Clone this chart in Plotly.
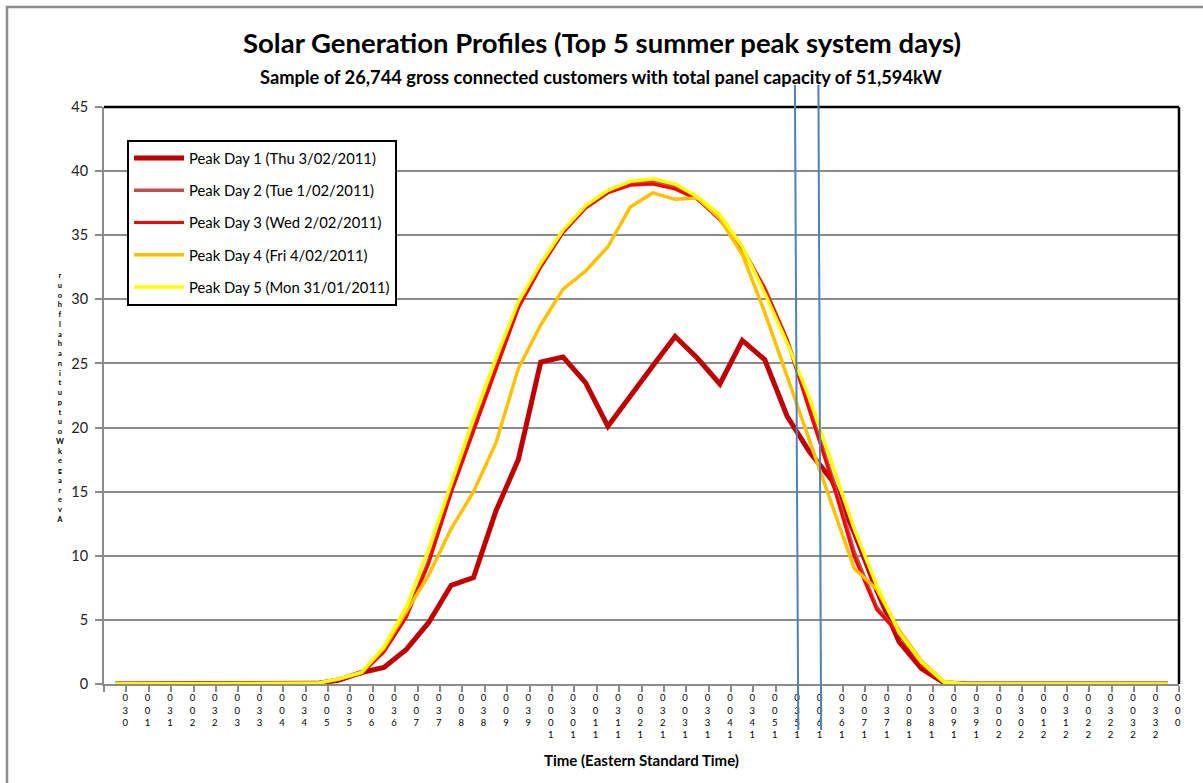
import plotly.graph_objects as go

# ---- data ----
tick_labels = ["0:30", "1:00", "1:30", "2:00", "2:30", "3:00", "3:30", "4:00", "4:30", "5:00",
               "5:30", "6:00", "6:30", "7:00", "7:30", "8:00", "8:30", "9:00", "9:30", "10:00",
               "10:30", "11:00", "11:30", "12:00", "12:30", "13:00", "13:30", "14:00", "14:30", "15:00",
               "15:30", "16:00", "16:30", "17:00", "17:30", "18:00", "18:30", "19:00", "19:30", "20:00",
               "20:30", "21:00", "21:30", "22:00", "22:30", "23:00", "23:30", "0:00"]

series_names = ["Peak Day 1 (Thu 3/02/2011)", "Peak Day 2 (Tue 1/02/2011)", "Peak Day 3 (Wed 2/02/2011)",
                "Peak Day 4 (Fri 4/02/2011)", "Peak Day 5 (Mon 31/01/2011)"]

day1 = [0, 0, 0, 0, 0, 0, 0, 0, 0, 0.05, 0.3, 0.9, 1.3, 2.7, 4.8, 7.7, 8.3, 13.5, 17.5, 25.1,
        25.5, 23.5, 20.1, 22.5, 24.8, 27.1, 25.4, 23.4, 26.8, 25.3, 20.9, 18.1, 15.9, 11.8, 7.3, 3.3,
        1.2, 0.1, 0, 0, 0, 0, 0, 0, 0, 0, 0, 0]
day2 = [0, 0, 0, 0, 0, 0, 0, 0, 0, 0.05, 0.4, 0.8, 2.6, 5.3, 9.6, 15.0, 19.9, 24.7, 29.4, 32.6,
        35.3, 37.2, 38.4, 39.0, 39.2, 38.8, 37.9, 36.3, 34.0, 30.9, 26.9, 21.6, 16.2, 10.3, 6.0, 3.9,
        1.6, 0.1, 0, 0, 0, 0, 0, 0, 0, 0, 0, 0]
day3 = [0, 0, 0, 0, 0, 0, 0, 0, 0, 0.05, 0.4, 0.8, 2.5, 5.2, 9.4, 14.9, 19.7, 24.5, 29.3, 32.5,
        35.2, 37.1, 38.3, 38.9, 39.0, 38.6, 37.8, 36.2, 33.9, 30.8, 26.8, 21.3, 15.9, 9.9, 5.8, 3.9,
        1.5, 0.1, 0, 0, 0, 0, 0, 0, 0, 0, 0, 0]
day4 = [0, 0, 0, 0, 0, 0, 0, 0, 0, 0.05, 0.4, 0.9, 2.8, 5.6, 8.5, 12.1, 15.0, 18.8, 24.6, 28.0,
        30.8, 32.2, 34.1, 37.2, 38.3, 37.8, 37.9, 36.3, 33.5, 29.0, 24.0, 19.0, 13.8, 9.0, 7.4, 4.2,
        1.8, 0.2, 0, 0, 0, 0, 0, 0, 0, 0, 0, 0]
day5 = [0, 0, 0, 0, 0, 0, 0, 0, 0, 0.05, 0.4, 0.9, 2.9, 6.0, 10.5, 15.6, 20.7, 25.4, 29.8, 32.8,
        35.4, 37.3, 38.5, 39.2, 39.4, 39.0, 38.0, 36.6, 34.1, 30.5, 26.6, 22.3, 17.3, 12.1, 7.7, 4.0,
        1.7, 0.15, 0, 0, 0, 0, 0, 0, 0, 0, 0, 0]

y_ticks = [0, 5, 10, 15, 20, 25, 30, 35, 40, 45]
y_title = "Average kW output in a half hour"
x_title = "Time (Eastern Standard Time)"
title = "Solar Generation Profiles (Top 5 summer peak system days)"
subtitle = "Sample of 26,744 gross connected customers with total panel capacity of 51,594kW"
marked_slots = [(30.35, 30.5), (31.4, 31.52)]

# ---- figure ----
FONT = "Lato, 'Liberation Sans', sans-serif"
colors = ["#C00000", "#C0504D", "#FF0000", "#FFC000", "#FFFF00"]
widths = [5, 3.5, 3, 3.5, 3.5]
values = [day1, day2, day3, day4, day5]

fig = go.Figure()
for i, (name, vals) in enumerate(zip(series_names, values)):
    fig.add_trace(go.Scatter(
        x=tick_labels, y=vals, name=name, mode="lines",
        line=dict(color=colors[i], width=widths[i]),
        legendgroup=f"g{i}", hoverinfo="skip"))

def stack(s):
    return "<br>".join(ch for ch in reversed(s) if ch not in ": ")

PH = 577.0
def py(ypix):
    return (684 - ypix) / PH

fig.update_layout(
    width=1203, height=783,
    margin=dict(l=104, r=24, t=107, b=99),
    paper_bgcolor="white", plot_bgcolor="white",
    font=dict(family=FONT, color="black", size=12),
    showlegend=True,
    legend=dict(x=(127 - 104) / 1075, y=py(140), xanchor="left", yanchor="top",
                bordercolor="black", borderwidth=2, bgcolor="white",
                font=dict(size=14.8, family=FONT, color="black"), tracegroupgap=10,
                itemwidth=50),
    xaxis=dict(type="category", range=[-0.5, 47.5], tickmode="array",
               tickvals=tick_labels, ticktext=[stack(t) for t in tick_labels],
               tickson="boundaries", ticks="outside", ticklen=6, tickcolor="#8c8c8c",
               tickwidth=2, showgrid=False, showline=True, linecolor="#8c8c8c", linewidth=2,
               tickfont=dict(size=9.5, family=FONT, color="black"), tickangle=0, ticklabelshift=10,
               ticklabelstandoff=4,
               title=dict(text=f"<b>{x_title}</b>", font=dict(size=15, family=FONT, color="black"),
                          standoff=16),
               zeroline=False, fixedrange=True),
    yaxis=dict(range=[0, 45], tickvals=y_ticks, ticks="outside", ticklen=7, tickcolor="#8c8c8c",
               tickwidth=2, showgrid=True, gridcolor="#8c8c8c", gridwidth=2,
               showline=True, linecolor="#8c8c8c", linewidth=2, ticklabelstandoff=4,
               tickfont=dict(size=14.5, family=FONT, color="#222222"), zeroline=False,
               fixedrange=True),
)

annotations = [
    dict(text=f"<b>{title}</b>", xref="paper", yref="paper", x=(602 - 104) / 1075, y=py(42),
         showarrow=False, font=dict(size=27.5, family=FONT, color="black"),
         xanchor="center", yanchor="middle"),
    dict(text=f"<b>{subtitle}</b>", xref="paper", yref="paper", x=(601 - 104) / 1075, y=py(77),
         showarrow=False, font=dict(size=18.3, family=FONT, color="black"),
         xanchor="center", yanchor="middle"),
    dict(text=f"<b>{stack(y_title)}</b>", xref="paper", yref="paper", x=(60 - 104) / 1075, y=py(397),
         showarrow=False, font=dict(size=7.5, family=FONT, color="black"),
         xanchor="center", yanchor="middle"),
]
fig.update_layout(annotations=annotations)

shapes = [
    dict(type="rect", xref="paper", yref="paper", x0=(7 - 104) / 1075, x1=1.2,
         y0=-0.3, y1=py(7), line=dict(color="#8c8c8c", width=2.5), layer="below"),
    dict(type="line", xref="paper", yref="paper", x0=0, x1=1, y0=1, y1=1,
         line=dict(color="black", width=2.5)),
    dict(type="line", xref="paper", yref="paper", x0=1, x1=1, y0=0, y1=1,
         line=dict(color="black", width=2.5)),
]
for a, b in marked_slots:
    shapes.append(dict(type="line", xref="x", yref="paper", x0=a, x1=b,
                       y0=py(85), y1=py(730),
                       line=dict(color="#4F81BD", width=2)))
fig.update_layout(shapes=shapes)

fig.write_html("out.html", config={"displayModeBar": False},
               post_script="document.body.style.margin='0';")
